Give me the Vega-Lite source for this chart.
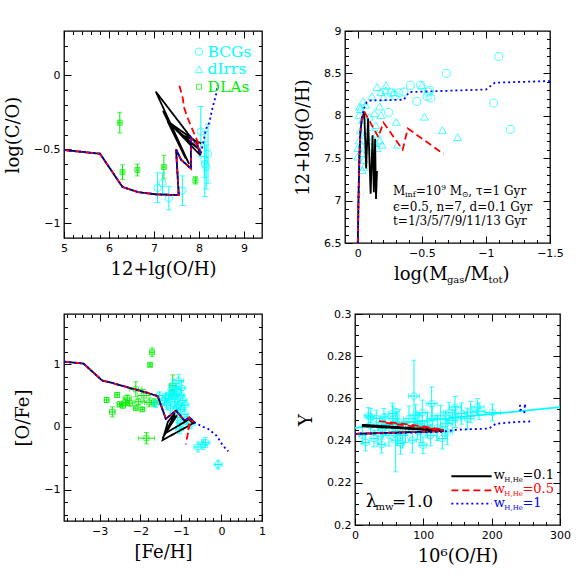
{
"$schema":"https://vega.github.io/schema/vega-lite/v6.json",
"background":"white",
"padding":{"left":3,"top":24,"right":5,"bottom":5},
"config":{
 "view":{"stroke":"black","strokeWidth":1.3},
 "axis":{"domain":false,"grid":false,"labelFont":"DejaVu Sans","labelFontSize":11,"labelColor":"black","labelPadding":11,"labelOverlap":false,"labelFlush":false,"titleFont":"DejaVu Serif","titleFontSize":18,"titleFontWeight":"normal","titleColor":"black","tickColor":"black","tickWidth":1,"format":"~r"},
 "axisX":{"titlePadding":4},
 "axisY":{"titlePadding":11},
 "line":{"strokeWidth":1.8},
 "point":{"filled":false,"strokeWidth":1}
},
"datasets":{
 "p1lines":[
  {"m":"0.1","o":1,"x":5,"y":-0.505},{"m":"0.1","o":2,"x":5.8,"y":-0.53},{"m":"0.1","o":3,"x":6.3,"y":-0.755},{"m":"0.1","o":4,"x":6.65,"y":-0.79},{"m":"0.1","o":5,"x":7.05,"y":-0.805},{"m":"0.1","o":6,"x":7.55,"y":-0.81},{"m":"0.1","o":7,"x":7.49,"y":-0.5},{"m":"0.1","o":8,"x":7.6,"y":-0.57},{"m":"0.1","o":9,"x":7.82,"y":-0.63},{"m":"0.1","o":10,"x":7.82,"y":-0.42},
  {"m":"0.1","o":11,"x":7.04,"y":-0.11},{"m":"0.1","o":12,"x":7.78,"y":-0.6},{"m":"0.1","o":13,"x":7.2,"y":-0.24},{"m":"0.1","o":14,"x":7.7,"y":-0.56},{"m":"0.1","o":15,"x":7.3,"y":-0.31},{"m":"0.1","o":16,"x":7.95,"y":-0.45},{"m":"0.1","o":17,"x":8.03,"y":-0.54},{"m":"0.1","o":18,"x":7.4,"y":-0.34},{"m":"0.1","o":19,"x":8.0,"y":-0.5},{"m":"0.1","o":20,"x":7.6,"y":-0.4},{"m":"0.1","o":21,"x":8.05,"y":-0.46},
  {"m":"0.5","o":1,"x":5,"y":-0.505},{"m":"0.5","o":2,"x":5.8,"y":-0.53},{"m":"0.5","o":3,"x":6.3,"y":-0.755},{"m":"0.5","o":4,"x":6.65,"y":-0.79},{"m":"0.5","o":5,"x":7.05,"y":-0.805},{"m":"0.5","o":6,"x":7.55,"y":-0.81},{"m":"0.5","o":7,"x":7.49,"y":-0.5},{"m":"0.5","o":8,"x":7.6,"y":-0.57},{"m":"0.5","o":9,"x":7.82,"y":-0.63},{"m":"0.5","o":10,"x":7.82,"y":-0.42},
  {"m":"0.5","o":11,"x":7.97,"y":-0.48},{"m":"0.5","o":12,"x":8.04,"y":-0.53},{"m":"0.5","o":13,"x":7.97,"y":-0.45},{"m":"0.5","o":14,"x":7.86,"y":-0.37},{"m":"0.5","o":15,"x":7.75,"y":-0.29},{"m":"0.5","o":16,"x":7.67,"y":-0.22},{"m":"0.5","o":17,"x":7.64,"y":-0.155},{"m":"0.5","o":18,"x":7.56,"y":-0.065},
  {"m":"1","o":1,"x":5,"y":-0.505},{"m":"1","o":2,"x":5.8,"y":-0.53},{"m":"1","o":3,"x":6.3,"y":-0.755},{"m":"1","o":4,"x":6.65,"y":-0.79},{"m":"1","o":5,"x":7.05,"y":-0.805},{"m":"1","o":6,"x":7.55,"y":-0.81},{"m":"1","o":7,"x":7.49,"y":-0.5},{"m":"1","o":8,"x":7.6,"y":-0.57},{"m":"1","o":9,"x":7.82,"y":-0.63},{"m":"1","o":10,"x":7.82,"y":-0.42},
  {"m":"1","o":11,"x":7.97,"y":-0.48},{"m":"1","o":12,"x":8.04,"y":-0.53},{"m":"1","o":13,"x":8.16,"y":-0.36},{"m":"1","o":14,"x":8.23,"y":-0.32},{"m":"1","o":15,"x":8.3,"y":-0.22},{"m":"1","o":16,"x":8.38,"y":-0.13},{"m":"1","o":17,"x":8.41,"y":-0.065}
 ],
 "p1bcg":[
  {"x":7.08,"y":-0.76,"xe":0.04,"ye":0.1},{"x":7.19,"y":-0.73,"xe":0.04,"ye":0.07},{"x":7.33,"y":-0.83,"xe":0.04,"ye":0.08},{"x":7.63,"y":-0.78,"xe":0.04,"ye":0.1},{"x":8.04,"y":-0.38,"xe":0.04,"ye":0.17},{"x":8.2,"y":-0.53,"xe":0.04,"ye":0.2},{"x":8.13,"y":-0.6,"xe":0.04,"ye":0.22},{"x":8.16,"y":-0.62,"xe":0.04,"ye":0.15},{"x":8.12,"y":-0.57,"xe":0.04,"ye":0.12}
 ],
 "p1dla":[
  {"x":6.24,"y":-0.32,"xe":0.03,"ye":0.07},{"x":6.3,"y":-0.655,"xe":0.03,"ye":0.05},{"x":6.63,"y":-0.64,"xe":0.03,"ye":0.04},{"x":7.22,"y":-0.62,"xe":0.03,"ye":0.08},{"x":7.92,"y":-0.71,"xe":0.03,"ye":0.025}
 ],
 "p2lines":[
  {"m":"0.1","o":1,"x":0,"y":6.5},{"m":"0.1","o":2,"x":-0.005,"y":7.0},{"m":"0.1","o":3,"x":-0.012,"y":7.5},{"m":"0.1","o":4,"x":-0.02,"y":7.8},{"m":"0.1","o":5,"x":-0.03,"y":7.95},
  {"m":"0.1","o":6,"x":-0.05,"y":8.05},{"m":"0.1","o":7,"x":-0.065,"y":7.38},{"m":"0.1","o":8,"x":-0.08,"y":7.97},{"m":"0.1","o":9,"x":-0.1,"y":7.08},{"m":"0.1","o":10,"x":-0.115,"y":7.77},{"m":"0.1","o":11,"x":-0.125,"y":7.1},{"m":"0.1","o":12,"x":-0.135,"y":7.73},{"m":"0.1","o":13,"x":-0.142,"y":7.02},{"m":"0.1","o":14,"x":-0.15,"y":7.35},
  {"m":"0.5","o":1,"x":0,"y":6.5},{"m":"0.5","o":2,"x":-0.005,"y":7.0},{"m":"0.5","o":3,"x":-0.012,"y":7.5},{"m":"0.5","o":4,"x":-0.02,"y":7.8},{"m":"0.5","o":5,"x":-0.03,"y":7.95},
  {"m":"0.5","o":6,"x":-0.05,"y":8.05},{"m":"0.5","o":7,"x":-0.16,"y":7.75},{"m":"0.5","o":8,"x":-0.2,"y":7.92},{"m":"0.5","o":9,"x":-0.35,"y":7.6},{"m":"0.5","o":10,"x":-0.39,"y":7.85},{"m":"0.5","o":11,"x":-0.67,"y":7.55},
  {"m":"1","o":1,"x":0,"y":6.5},{"m":"1","o":2,"x":-0.005,"y":7.0},{"m":"1","o":3,"x":-0.012,"y":7.5},{"m":"1","o":4,"x":-0.02,"y":7.8},{"m":"1","o":5,"x":-0.03,"y":7.95},
  {"m":"1","o":6,"x":-0.045,"y":8.08},{"m":"1","o":7,"x":-0.07,"y":8.16},{"m":"1","o":8,"x":-0.09,"y":8.18},{"m":"1","o":9,"x":-0.36,"y":8.19},{"m":"1","o":10,"x":-0.4,"y":8.28},{"m":"1","o":11,"x":-1.0,"y":8.31},{"m":"1","o":12,"x":-1.07,"y":8.39},{"m":"1","o":13,"x":-1.5,"y":8.41}
 ],
 "p2circ":[
  {"x":-1.1,"y":8.7},{"x":-0.69,"y":8.5},{"x":-1.06,"y":8.15},{"x":-1.19,"y":7.84},{"x":-0.46,"y":8.17},{"x":-0.41,"y":8.36},{"x":-0.49,"y":8.36},{"x":-0.54,"y":8.23},{"x":-0.57,"y":8.21},{"x":-0.55,"y":8.28},{"x":-0.24,"y":8.04},{"x":-0.32,"y":8.27},{"x":-0.26,"y":8.27},{"x":-0.29,"y":8.24},{"x":-0.36,"y":8.28},{"x":-0.56,"y":8.3}
 ],
 "p2tri":[
  {"x":-0.04,"y":8.17},{"x":-0.06,"y":8.13},{"x":-0.02,"y":8.08},{"x":-0.01,"y":8.01},{"x":-0.035,"y":7.95},{"x":-0.15,"y":8.34},{"x":-0.18,"y":8.28},{"x":-0.11,"y":8.23},{"x":-0.17,"y":8.11},{"x":-0.13,"y":8.03},{"x":-0.09,"y":7.99},{"x":-0.1,"y":7.87},{"x":-0.14,"y":7.89},{"x":-0.18,"y":8.01},{"x":-0.15,"y":7.79},{"x":-0.17,"y":7.71},{"x":-0.19,"y":7.66},{"x":-0.11,"y":7.71},{"x":-0.06,"y":7.77},{"x":-0.02,"y":7.83},{"x":-0.01,"y":7.71},{"x":0.0,"y":7.62},{"x":-0.035,"y":7.56},{"x":-0.05,"y":7.4},{"x":-0.035,"y":7.36},{"x":-0.3,"y":7.93},{"x":-0.31,"y":7.66},{"x":-0.52,"y":7.99},{"x":-0.66,"y":7.83},{"x":-0.78,"y":7.75},{"x":-0.28,"y":8.28},{"x":-0.22,"y":8.3},{"x":-0.5,"y":8.36},{"x":-0.015,"y":8.11},{"x":-0.14,"y":7.68},{"x":-0.15,"y":7.62},{"x":0.0,"y":7.52},{"x":-0.05,"y":7.48},{"x":-0.2,"y":8.22},{"x":-0.22,"y":8.36},{"x":-0.03,"y":7.66},{"x":-0.08,"y":7.6}
 ],
 "p3lines":[
  {"m":"0.1","o":1,"x":-3.88,"y":1.04},{"m":"0.1","o":2,"x":-3.4,"y":1.01},{"m":"0.1","o":3,"x":-2.94,"y":0.74},{"m":"0.1","o":4,"x":-2.69,"y":0.7},{"m":"0.1","o":5,"x":-1.86,"y":0.55},{"m":"0.1","o":6,"x":-1.57,"y":0.49},{"m":"0.1","o":7,"x":-1.37,"y":0.13},{"m":"0.1","o":8,"x":-1.12,"y":0.26},{"m":"0.1","o":9,"x":-0.91,"y":0.1},{"m":"0.1","o":10,"x":-0.79,"y":0.15},{"m":"0.1","o":11,"x":-0.66,"y":0.07},
  {"m":"0.1","o":12,"x":-1.45,"y":-0.21},{"m":"0.1","o":13,"x":-1.32,"y":0.08},{"m":"0.1","o":14,"x":-1.15,"y":0.22},{"m":"0.1","o":15,"x":-1.28,"y":0.0},{"m":"0.1","o":16,"x":-1.45,"y":-0.18},{"m":"0.1","o":17,"x":-1.2,"y":0.14},{"m":"0.1","o":18,"x":-1.1,"y":0.18},{"m":"0.1","o":19,"x":-1.38,"y":-0.1},{"m":"0.1","o":20,"x":-0.8,"y":0.12},{"m":"0.1","o":21,"x":-0.7,"y":0.06},
  {"m":"0.5","o":1,"x":-3.88,"y":1.04},{"m":"0.5","o":2,"x":-3.4,"y":1.01},{"m":"0.5","o":3,"x":-2.94,"y":0.74},{"m":"0.5","o":4,"x":-2.69,"y":0.7},{"m":"0.5","o":5,"x":-1.86,"y":0.55},{"m":"0.5","o":6,"x":-1.57,"y":0.49},{"m":"0.5","o":7,"x":-1.37,"y":0.13},{"m":"0.5","o":8,"x":-1.12,"y":0.26},{"m":"0.5","o":9,"x":-0.91,"y":0.1},{"m":"0.5","o":10,"x":-0.79,"y":0.15},{"m":"0.5","o":11,"x":-0.66,"y":0.07},
  {"m":"0.5","o":12,"x":-0.78,"y":0.12},{"m":"0.5","o":13,"x":-0.82,"y":-0.05},{"m":"0.5","o":14,"x":-0.78,"y":0.05},{"m":"0.5","o":15,"x":-0.88,"y":-0.28},
  {"m":"1","o":1,"x":-3.88,"y":1.04},{"m":"1","o":2,"x":-3.4,"y":1.01},{"m":"1","o":3,"x":-2.94,"y":0.74},{"m":"1","o":4,"x":-2.69,"y":0.7},{"m":"1","o":5,"x":-1.86,"y":0.55},{"m":"1","o":6,"x":-1.57,"y":0.49},{"m":"1","o":7,"x":-1.37,"y":0.13},{"m":"1","o":8,"x":-1.12,"y":0.26},{"m":"1","o":9,"x":-0.91,"y":0.1},{"m":"1","o":10,"x":-0.79,"y":0.15},{"m":"1","o":11,"x":-0.66,"y":0.07},
  {"m":"1","o":12,"x":-0.45,"y":0.0},{"m":"1","o":13,"x":-0.33,"y":-0.03},{"m":"1","o":14,"x":-0.12,"y":-0.14},{"m":"1","o":15,"x":0.04,"y":-0.3},{"m":"1","o":16,"x":0.17,"y":-0.39}
 ],
 "p3dla":[
  {"x":-1.71,"y":1.19,"xe":0.05,"ye":0.07},{"x":-1.76,"y":0.99,"xe":0.03,"ye":0.03},{"x":-2.83,"y":0.43,"xe":0.05,"ye":0.04},{"x":-2.69,"y":0.24,"xe":0.07,"ye":0.08},{"x":-2.57,"y":0.51,"xe":0.05,"ye":0.04},{"x":-2.51,"y":0.36,"xe":0.06,"ye":0.04},{"x":-2.32,"y":0.46,"xe":0.1,"ye":0.05},{"x":-2.26,"y":0.38,"xe":0.08,"ye":0.05},{"x":-2.11,"y":0.6,"xe":0.15,"ye":0.12},{"x":-2.11,"y":0.3,"xe":0.05,"ye":0.03},{"x":-1.95,"y":0.28,"xe":0.05,"ye":0.03},{"x":-1.91,"y":0.5,"xe":0.15,"ye":0.1},{"x":-1.78,"y":0.39,"xe":0.12,"ye":0.07},{"x":-1.66,"y":0.39,"xe":0.08,"ye":0.06},{"x":-1.85,"y":-0.18,"xe":0.2,"ye":0.09},{"x":-1.2,"y":0.66,"xe":0.08,"ye":0.17},{"x":-1.22,"y":0.55,"xe":0.05,"ye":0.05},{"x":-2.36,"y":0.39,"xe":0.08,"ye":0.05},{"x":-2.43,"y":0.34,"xe":0.06,"ye":0.04},{"x":-2.05,"y":0.4,"xe":0.1,"ye":0.05}
 ],
 "p3bcg":[
  {"x":-0.58,"y":-0.32,"xe":0.1,"ye":0.08},{"x":-0.45,"y":-0.28,"xe":0.1,"ye":0.08},{"x":-0.39,"y":-0.25,"xe":0.1,"ye":0.08},{"x":-0.08,"y":-0.6,"xe":0.1,"ye":0.07},{"x":-1.03,"y":-0.03,"xe":0.1,"ye":0.08},{"x":-1.05,"y":0.74,"xe":0.12,"ye":0.1},{"x":-1.62,"y":0.37,"xe":0.08,"ye":0.06},{"x":-1.53,"y":0.5,"xe":0.08,"ye":0.06},{"x":-1.37,"y":0.46,"xe":0.1,"ye":0.08},{"x":-1.3,"y":0.45,"xe":0.1,"ye":0.08},{"x":-1.2,"y":0.55,"xe":0.1,"ye":0.1},{"x":-1.15,"y":0.4,"xe":0.1,"ye":0.08},{"x":-1.1,"y":0.6,"xe":0.1,"ye":0.1},{"x":-1.05,"y":0.35,"xe":0.1,"ye":0.08},{"x":-1.0,"y":0.5,"xe":0.1,"ye":0.08},{"x":-0.95,"y":0.42,"xe":0.1,"ye":0.08},{"x":-1.25,"y":0.3,"xe":0.1,"ye":0.08},{"x":-1.1,"y":0.3,"xe":0.1,"ye":0.08},{"x":-1.0,"y":0.28,"xe":0.1,"ye":0.08},{"x":-0.9,"y":0.35,"xe":0.1,"ye":0.08},{"x":-1.2,"y":0.65,"xe":0.1,"ye":0.1},{"x":-0.98,"y":0.62,"xe":0.1,"ye":0.1},{"x":-1.35,"y":0.35,"xe":0.1,"ye":0.08},{"x":-1.4,"y":0.42,"xe":0.1,"ye":0.08},{"x":-1.15,"y":0.48,"xe":0.1,"ye":0.08},{"x":-0.92,"y":0.2,"xe":0.1,"ye":0.08},{"x":-0.85,"y":0.12,"xe":0.1,"ye":0.08},{"x":-1.08,"y":0.15,"xe":0.1,"ye":0.08},{"x":-1.0,"y":0.05,"xe":0.1,"ye":0.08},{"x":-0.75,"y":0.05,"xe":0.1,"ye":0.08},{"x":-1.12,"y":0.52,"xe":0.1,"ye":0.08},{"x":-1.28,"y":0.52,"xe":0.1,"ye":0.08}
 ],
 "p4lines":[
  {"m":"0.1","s":"k1","o":1,"x":0,"y":0.2432},{"m":"0.1","s":"k1","o":2,"x":130,"y":0.2445},
  {"m":"0.1","s":"k2","o":1,"x":10,"y":0.2475},{"m":"0.1","s":"k2","o":2,"x":60,"y":0.2465},{"m":"0.1","s":"k2","o":3,"x":130,"y":0.2448},
  {"m":"0.1","s":"k3","o":1,"x":10,"y":0.2468},{"m":"0.1","s":"k3","o":2,"x":70,"y":0.2458},{"m":"0.1","s":"k3","o":3,"x":130,"y":0.2446},
  {"m":"0.1","s":"k4","o":1,"x":12,"y":0.2472},{"m":"0.1","s":"k4","o":2,"x":90,"y":0.2455},{"m":"0.1","s":"k4","o":3,"x":128,"y":0.2447},
  {"m":"0.5","s":"r1","o":1,"x":0,"y":0.2432},{"m":"0.5","s":"r1","o":2,"x":130,"y":0.2445},
  {"m":"0.5","s":"r2","o":1,"x":35,"y":0.2492},{"m":"0.5","s":"r2","o":2,"x":80,"y":0.2476},{"m":"0.5","s":"r2","o":3,"x":130,"y":0.2452},
  {"m":"0.5","s":"r3","o":1,"x":45,"y":0.2484},{"m":"0.5","s":"r3","o":2,"x":130,"y":0.2449},
  {"m":"1","s":"b1","o":1,"x":0,"y":0.2432},{"m":"1","s":"b1","o":2,"x":60,"y":0.2436},{"m":"1","s":"b1","o":3,"x":128,"y":0.2442},{"m":"1","s":"b1","o":4,"x":150,"y":0.2452},{"m":"1","s":"b1","o":5,"x":196,"y":0.2457},{"m":"1","s":"b1","o":6,"x":206,"y":0.248},{"m":"1","s":"b1","o":7,"x":235,"y":0.2488},{"m":"1","s":"b1","o":8,"x":258,"y":0.2491},
  {"m":"1","s":"b2","o":1,"x":240,"y":0.2565},{"m":"1","s":"b2","o":2,"x":252,"y":0.2567},{"m":"1","s":"b2","o":3,"x":246,"y":0.2555},{"m":"1","s":"b2","o":4,"x":242,"y":0.2545},{"m":"1","s":"b2","o":5,"x":248,"y":0.2535},{"m":"1","s":"b2","o":6,"x":252,"y":0.2527}
 ],
 "p4circ":[
  {"x":15.6,"y":0.2391,"xe":6,"ye":0.004},{"x":19.5,"y":0.2517,"xe":6,"ye":0.004},{"x":22.9,"y":0.2472,"xe":6,"ye":0.004},{"x":31.2,"y":0.2504,"xe":6,"ye":0.004},{"x":33.7,"y":0.2436,"xe":6,"ye":0.005},{"x":39,"y":0.2381,"xe":6,"ye":0.004},{"x":42.4,"y":0.2512,"xe":6,"ye":0.004},{"x":43.9,"y":0.2476,"xe":6,"ye":0.005},{"x":55.6,"y":0.2504,"xe":6,"ye":0.006},{"x":62,"y":0.2457,"xe":8,"ye":0.008},{"x":66.8,"y":0.2386,"xe":6,"ye":0.005},{"x":69.3,"y":0.2425,"xe":8,"ye":0.006},{"x":79,"y":0.2504,"xe":8,"ye":0.006},{"x":86.3,"y":0.2611,"xe":8,"ye":0.017},{"x":88.8,"y":0.252,"xe":8,"ye":0.005},{"x":91.2,"y":0.2465,"xe":8,"ye":0.006},{"x":98.5,"y":0.2532,"xe":8,"ye":0.006},{"x":99.5,"y":0.2378,"xe":6,"ye":0.004},{"x":105.9,"y":0.2472,"xe":8,"ye":0.006},{"x":112.2,"y":0.2575,"xe":8,"ye":0.008},{"x":120.5,"y":0.246,"xe":8,"ye":0.006},{"x":125.4,"y":0.2517,"xe":8,"ye":0.005},{"x":132.7,"y":0.248,"xe":8,"ye":0.006},{"x":137.6,"y":0.2532,"xe":8,"ye":0.005},{"x":142.4,"y":0.2496,"xe":8,"ye":0.005},{"x":146.3,"y":0.2559,"xe":8,"ye":0.005},{"x":156.1,"y":0.2528,"xe":8,"ye":0.005},{"x":169.3,"y":0.2535,"xe":10,"ye":0.005},{"x":179,"y":0.2559,"xe":10,"ye":0.004},{"x":181.5,"y":0.2539,"xe":10,"ye":0.004},{"x":201,"y":0.2533,"xe":12,"ye":0.004},{"x":10.7,"y":0.2425,"xe":5,"ye":0.004},{"x":27.8,"y":0.241,"xe":6,"ye":0.004},{"x":49.8,"y":0.2425,"xe":8,"ye":0.005},{"x":59.5,"y":0.2402,"xe":6,"ye":0.015},{"x":74,"y":0.2441,"xe":8,"ye":0.005},{"x":83.9,"y":0.2402,"xe":6,"ye":0.006},{"x":96.1,"y":0.2441,"xe":8,"ye":0.005},{"x":110.7,"y":0.2425,"xe":8,"ye":0.005},{"x":127.8,"y":0.241,"xe":8,"ye":0.005},{"x":93.7,"y":0.248,"xe":8,"ye":0.005},{"x":64.4,"y":0.2488,"xe":8,"ye":0.006},{"x":40,"y":0.2457,"xe":6,"ye":0.005},{"x":113,"y":0.2504,"xe":8,"ye":0.006},{"x":147.3,"y":0.2512,"xe":8,"ye":0.005},{"x":164.4,"y":0.2504,"xe":10,"ye":0.005},{"x":135,"y":0.2441,"xe":8,"ye":0.006},{"x":23,"y":0.2512,"xe":6,"ye":0.004},{"x":54.6,"y":0.2528,"xe":6,"ye":0.005}
 ]
},
"vconcat":[
{"hconcat":[
{
 "width":198,"height":207,
 "encoding":{
  "x":{"field":"x","type":"quantitative","scale":{"domain":[5,9.4],"nice":false,"zero":false},"axis":null},
  "y":{"field":"y","type":"quantitative","scale":{"domain":[-1.1,0.3],"nice":false,"zero":false},"axis":null}
 },
 "layer":[
  {"data":{"name":"p1dla"},"mark":{"type":"errorbar","ticks":{"size":5},"color":"#00ee00"},"encoding":{"yError":{"field":"ye"}}},
  {"data":{"name":"p1dla"},"mark":{"type":"errorbar","ticks":{"size":5},"color":"#00ee00"},"encoding":{"xError":{"field":"xe"}}},
  {"data":{"name":"p1dla"},"mark":{"type":"point","shape":"square","size":25,"color":"#00ee00"}},
  {"data":{"name":"p1bcg"},"mark":{"type":"errorbar","ticks":{"size":6},"color":"#00ffff"},"encoding":{"yError":{"field":"ye"}}},
  {"data":{"name":"p1bcg"},"mark":{"type":"point","shape":"circle","size":55,"color":"#00ffff"},
   "encoding":{
    "x":{"field":"x","type":"quantitative","scale":{"domain":[5,9.4],"nice":false,"zero":false},"axis":{"orient":"top","values":[5,5.2,5.4,5.6,5.8,6,6.2,6.4,6.6,6.8,7,7.2,7.4,7.6,7.8,8,8.2,8.4,8.6,8.8,9,9.2],"labels":false,"title":null,"tickSize":{"condition":{"test":"abs(datum.value-round(datum.value))<1e-6","value":-7},"value":-3.5}}},
    "y":{"field":"y","type":"quantitative","scale":{"domain":[-1.1,0.3],"nice":false,"zero":false},"axis":{"orient":"right","values":[-1,-0.9,-0.8,-0.7,-0.6,-0.5,-0.4,-0.3,-0.2,-0.1,0,0.1,0.2],"labels":false,"title":null,"tickSize":{"condition":{"test":"abs(2*datum.value-round(2*datum.value))<1e-6","value":-7},"value":-3.5}}}
   }},
  {"data":{"name":"p1lines"},"mark":{"type":"line"},
   "encoding":{
    "x":{"field":"x","type":"quantitative","scale":{"domain":[5,9.4],"nice":false,"zero":false},"axis":{"orient":"bottom","values":[5,5.2,5.4,5.6,5.8,6,6.2,6.4,6.6,6.8,7,7.2,7.4,7.6,7.8,8,8.2,8.4,8.6,8.8,9,9.2],"labelExpr":"abs(datum.value-round(datum.value))<1e-6 ? datum.label : ''","title":"12+lg(O/H)","tickSize":{"condition":{"test":"abs(datum.value-round(datum.value))<1e-6","value":-7},"value":-3.5}}},
    "y":{"field":"y","type":"quantitative","scale":{"domain":[-1.1,0.3],"nice":false,"zero":false},"axis":{"orient":"left","values":[-1,-0.9,-0.8,-0.7,-0.6,-0.5,-0.4,-0.3,-0.2,-0.1,0,0.1,0.2],"labelExpr":"abs(2*datum.value-round(2*datum.value))<1e-6 ? datum.label : ''","title":"log(C/O)","tickSize":{"condition":{"test":"abs(2*datum.value-round(2*datum.value))<1e-6","value":-7},"value":-3.5}}},
    "color":{"field":"m","type":"nominal","scale":{"domain":["0.1","0.5","1"],"range":["#000000","#ff0000","#0000ff"]},"legend":null},
    "strokeDash":{"field":"m","type":"nominal","scale":{"domain":["0.1","0.5","1"],"range":[[1,0],[7,4],[2,3]]},"legend":null},
    "order":{"field":"o","type":"quantitative"}
   }},
  {"data":{"values":[{"x":8.0,"y":0.16}]},"mark":{"type":"point","shape":"circle","size":55,"color":"#00ffff"}},
  {"data":{"values":[{"x":8.0,"y":0.04}]},"mark":{"type":"point","shape":"triangle-up","size":55,"color":"#00ffff"}},
  {"data":{"values":[{"x":8.0,"y":-0.077}]},"mark":{"type":"point","shape":"square","size":25,"color":"#00ee00"}},
  {"data":{"values":[{"x":8.19,"y":0.16,"t":"BCGs"},{"x":8.19,"y":0.04,"t":"dIrrs"}]},"mark":{"type":"text","align":"left","baseline":"middle","font":"DejaVu Serif","fontSize":15.5,"color":"#00ffff"},"encoding":{"text":{"field":"t"}}},
  {"data":{"values":[{"x":8.19,"y":-0.077,"t":"DLAs"}]},"mark":{"type":"text","align":"left","baseline":"middle","font":"DejaVu Serif","fontSize":15.5,"color":"#00ee00"},"encoding":{"text":{"field":"t"}}}
 ]
},
{
 "width":205,"height":212,
 "encoding":{
  "x":{"field":"x","type":"quantitative","scale":{"domain":[-1.5,0.1],"reverse":true,"nice":false,"zero":false},"axis":null},
  "y":{"field":"y","type":"quantitative","scale":{"domain":[6.5,9],"nice":false,"zero":false},"axis":null}
 },
 "layer":[
  {"data":{"name":"p2circ"},"mark":{"type":"point","shape":"circle","size":65,"color":"#00ffff"}},
  {"data":{"name":"p2tri"},"mark":{"type":"point","shape":"triangle-up","size":65,"color":"#00ffff"},
   "encoding":{
    "x":{"field":"x","type":"quantitative","scale":{"domain":[-1.5,0.1],"reverse":true,"nice":false,"zero":false},"axis":{"orient":"top","values":[0,-0.1,-0.2,-0.3,-0.4,-0.5,-0.6,-0.7,-0.8,-0.9,-1,-1.1,-1.2,-1.3,-1.4],"labels":false,"title":null,"tickSize":{"condition":{"test":"abs(2*datum.value-round(2*datum.value))<1e-6","value":-7},"value":-3.5}}},
    "y":{"field":"y","type":"quantitative","scale":{"domain":[6.5,9],"nice":false,"zero":false},"axis":{"orient":"right","values":[6.6,6.7,6.8,6.9,7,7.1,7.2,7.3,7.4,7.5,7.6,7.7,7.8,7.9,8,8.1,8.2,8.3,8.4,8.5,8.6,8.7,8.8,8.9],"labels":false,"title":null,"tickSize":{"condition":{"test":"abs(2*datum.value-round(2*datum.value))<1e-6","value":-7},"value":-3.5}}}
   }},
  {"data":{"name":"p2lines"},"mark":{"type":"line"},
   "encoding":{
    "x":{"field":"x","type":"quantitative","scale":{"domain":[-1.5,0.1],"reverse":true,"nice":false,"zero":false},"axis":{"orient":"bottom","values":[0,-0.1,-0.2,-0.3,-0.4,-0.5,-0.6,-0.7,-0.8,-0.9,-1,-1.1,-1.2,-1.3,-1.4,-1.5],"labelExpr":"abs(2*datum.value-round(2*datum.value))<1e-6 ? datum.label : ''","title":null,"tickSize":{"condition":{"test":"abs(2*datum.value-round(2*datum.value))<1e-6","value":-7},"value":-3.5}}},
    "y":{"field":"y","type":"quantitative","scale":{"domain":[6.5,9],"nice":false,"zero":false},"axis":{"orient":"left","values":[6.5,6.6,6.7,6.8,6.9,7,7.1,7.2,7.3,7.4,7.5,7.6,7.7,7.8,7.9,8,8.1,8.2,8.3,8.4,8.5,8.6,8.7,8.8,8.9,9],"labelExpr":"abs(2*datum.value-round(2*datum.value))<1e-6 ? datum.label : ''","title":"12+log(O/H)","tickSize":{"condition":{"test":"abs(2*datum.value-round(2*datum.value))<1e-6","value":-7},"value":-3.5}}},
    "color":{"field":"m","type":"nominal","scale":{"domain":["0.1","0.5","1"],"range":["#000000","#ff0000","#0000ff"]},"legend":null},
    "strokeDash":{"field":"m","type":"nominal","scale":{"domain":["0.1","0.5","1"],"range":[[1,0],[7,4],[2,3]]},"legend":null},
    "order":{"field":"o","type":"quantitative"}
   }},
  {"data":{"values":[{"x":-0.275,"y":7.07,"t":"M"},{"x":-0.452,"y":7.07,"t":"=10"},{"x":-0.718,"y":7.07,"t":"M"},{"x":-0.862,"y":7.07,"t":", τ=1 Gyr"},{"x":-0.275,"y":6.88,"t":"ϵ=0.5, n=7, d=0.1 Gyr"},{"x":-0.275,"y":6.71,"t":"t=1/3/5/7/9/11/13 Gyr"}]},
   "mark":{"type":"text","align":"left","baseline":"alphabetic","font":"DejaVu Serif","fontSize":12,"color":"black"},"encoding":{"text":{"field":"t"}}},
  {"data":{"values":[{"x":-0.368,"y":7.04,"t":"inf"},{"x":-0.65,"y":7.13,"t":"9"},{"x":-0.811,"y":7.04,"t":"⊙"}]},
   "mark":{"type":"text","align":"left","baseline":"alphabetic","font":"DejaVu Serif","fontSize":8,"color":"black"},"encoding":{"text":{"field":"t"}}},
  {"data":{"values":[{"x":-0.2825,"y":6.064,"t":"log(M"},{"x":-0.832,"y":6.064,"t":"/M"},{"x":-1.129,"y":6.064,"t":")"}]},
   "mark":{"type":"text","align":"left","baseline":"alphabetic","font":"DejaVu Serif","fontSize":18,"color":"black"},"encoding":{"text":{"field":"t"}}},
  {"data":{"values":[{"x":-0.6955,"y":6.03,"t":"gas"},{"x":-1.0195,"y":6.03,"t":"tot"}]},
   "mark":{"type":"text","align":"left","baseline":"alphabetic","font":"DejaVu Serif","fontSize":10,"color":"black"},"encoding":{"text":{"field":"t"}}}
 ]
}
],"spacing":29},
{"hconcat":[
{
 "width":198,"height":207,
 "encoding":{
  "x":{"field":"x","type":"quantitative","scale":{"domain":[-3.88,1],"nice":false,"zero":false},"axis":null},
  "y":{"field":"y","type":"quantitative","scale":{"domain":[-1.5,1.8],"nice":false,"zero":false},"axis":null}
 },
 "layer":[
  {"data":{"name":"p3dla"},"mark":{"type":"errorbar","ticks":{"size":5},"color":"#00ee00"},"encoding":{"yError":{"field":"ye"}}},
  {"data":{"name":"p3dla"},"mark":{"type":"errorbar","ticks":{"size":5},"color":"#00ee00"},"encoding":{"xError":{"field":"xe"}}},
  {"data":{"name":"p3dla"},"mark":{"type":"point","shape":"square","size":25,"color":"#00ee00"}},
  {"data":{"name":"p3bcg"},"mark":{"type":"errorbar","ticks":{"size":5},"color":"#00ffff"},"encoding":{"yError":{"field":"ye"}}},
  {"data":{"name":"p3bcg"},"mark":{"type":"errorbar","ticks":{"size":5},"color":"#00ffff"},"encoding":{"xError":{"field":"xe"}}},
  {"data":{"name":"p3bcg"},"mark":{"type":"point","shape":"circle","size":40,"color":"#00ffff"},
   "encoding":{
    "x":{"field":"x","type":"quantitative","scale":{"domain":[-3.88,1],"nice":false,"zero":false},"axis":{"orient":"top","values":[-3.8,-3.6,-3.4,-3.2,-3,-2.8,-2.6,-2.4,-2.2,-2,-1.8,-1.6,-1.4,-1.2,-1,-0.8,-0.6,-0.4,-0.2,0,0.2,0.4,0.6,0.8],"labels":false,"title":null,"tickSize":{"condition":{"test":"abs(datum.value-round(datum.value))<1e-6","value":-7},"value":-3.5}}},
    "y":{"field":"y","type":"quantitative","scale":{"domain":[-1.5,1.8],"nice":false,"zero":false},"axis":{"orient":"right","values":[-1.4,-1.2,-1,-0.8,-0.6,-0.4,-0.2,0,0.2,0.4,0.6,0.8,1,1.2,1.4,1.6],"labels":false,"title":null,"tickSize":{"condition":{"test":"abs(datum.value-round(datum.value))<1e-6","value":-7},"value":-3.5}}}
   }},
  {"data":{"name":"p3lines"},"mark":{"type":"line"},
   "encoding":{
    "x":{"field":"x","type":"quantitative","scale":{"domain":[-3.88,1],"nice":false,"zero":false},"axis":{"orient":"bottom","values":[-3.8,-3.6,-3.4,-3.2,-3,-2.8,-2.6,-2.4,-2.2,-2,-1.8,-1.6,-1.4,-1.2,-1,-0.8,-0.6,-0.4,-0.2,0,0.2,0.4,0.6,0.8,1],"labelExpr":"abs(datum.value-round(datum.value))<1e-6 ? datum.label : ''","title":"[Fe/H]","tickSize":{"condition":{"test":"abs(datum.value-round(datum.value))<1e-6","value":-7},"value":-3.5}}},
    "y":{"field":"y","type":"quantitative","scale":{"domain":[-1.5,1.8],"nice":false,"zero":false},"axis":{"orient":"left","values":[-1.4,-1.2,-1,-0.8,-0.6,-0.4,-0.2,0,0.2,0.4,0.6,0.8,1,1.2,1.4,1.6],"labelExpr":"abs(datum.value-round(datum.value))<1e-6 ? datum.label : ''","title":"[O/Fe]","tickSize":{"condition":{"test":"abs(datum.value-round(datum.value))<1e-6","value":-7},"value":-3.5}}},
    "color":{"field":"m","type":"nominal","scale":{"domain":["0.1","0.5","1"],"range":["#000000","#ff0000","#0000ff"]},"legend":null},
    "strokeDash":{"field":"m","type":"nominal","scale":{"domain":["0.1","0.5","1"],"range":[[1,0],[7,4],[2,3]]},"legend":null},
    "order":{"field":"o","type":"quantitative"}
   }}
 ]
},
{
 "width":205,"height":211,
 "encoding":{
  "x":{"field":"x","type":"quantitative","scale":{"domain":[0,300],"nice":false,"zero":false},"axis":null},
  "y":{"field":"y","type":"quantitative","scale":{"domain":[0.2,0.3],"nice":false,"zero":false},"axis":null}
 },
 "layer":[
  {"data":{"name":"p4circ"},"mark":{"type":"errorbar","ticks":{"size":5},"color":"#00ffff"},"encoding":{"yError":{"field":"ye"}}},
  {"data":{"name":"p4circ"},"mark":{"type":"errorbar","ticks":{"size":5},"color":"#00ffff"},"encoding":{"xError":{"field":"xe"}}},
  {"data":{"name":"p4circ"},"mark":{"type":"point","shape":"circle","size":45,"color":"#00ffff"},
   "encoding":{
    "x":{"field":"x","type":"quantitative","scale":{"domain":[0,300],"nice":false,"zero":false},"axis":{"orient":"top","values":[20,40,60,80,100,120,140,160,180,200,220,240,260,280],"labels":false,"title":null,"tickSize":{"condition":{"test":"abs(datum.value/100-round(datum.value/100))<1e-6","value":-7},"value":-3.5}}},
    "y":{"field":"y","type":"quantitative","scale":{"domain":[0.2,0.3],"nice":false,"zero":false},"axis":{"orient":"right","values":[0.205,0.21,0.215,0.22,0.225,0.23,0.235,0.24,0.245,0.25,0.255,0.26,0.265,0.27,0.275,0.28,0.285,0.29,0.295],"labels":false,"title":null,"tickSize":{"condition":{"test":"abs(50*datum.value-round(50*datum.value))<1e-6","value":-7},"value":-3.5}}}
   }},
  {"data":{"values":[{"x":0,"y":0.246},{"x":300,"y":0.2559}]},"mark":{"type":"line","color":"#00ffff","strokeWidth":1.8}},
  {"data":{"name":"p4lines"},"mark":{"type":"line"},
   "encoding":{
    "x":{"field":"x","type":"quantitative","scale":{"domain":[0,300],"nice":false,"zero":false},"axis":{"orient":"bottom","values":[0,20,40,60,80,100,120,140,160,180,200,220,240,260,280,300],"labelExpr":"abs(datum.value/100-round(datum.value/100))<1e-6 ? datum.label : ''","title":"10⁶(O/H)","tickSize":{"condition":{"test":"abs(datum.value/100-round(datum.value/100))<1e-6","value":-7},"value":-3.5}}},
    "y":{"field":"y","type":"quantitative","scale":{"domain":[0.2,0.3],"nice":false,"zero":false},"axis":{"orient":"left","values":[0.2,0.205,0.21,0.215,0.22,0.225,0.23,0.235,0.24,0.245,0.25,0.255,0.26,0.265,0.27,0.275,0.28,0.285,0.29,0.295,0.3],"labelExpr":"abs(50*datum.value-round(50*datum.value))<1e-6 ? datum.label : ''","title":"Y","tickSize":{"condition":{"test":"abs(50*datum.value-round(50*datum.value))<1e-6","value":-7},"value":-3.5}}},
    "color":{"field":"m","type":"nominal","scale":{"domain":["0.1","0.5","1"],"range":["#000000","#ff0000","#0000ff"]},"legend":null},
    "strokeDash":{"field":"m","type":"nominal","scale":{"domain":["0.1","0.5","1"],"range":[[1,0],[7,4],[2,3]]},"legend":null},
    "detail":{"field":"s","type":"nominal"},
    "order":{"field":"o","type":"quantitative"}
   }},
  {"data":{"values":[{"m":"0.1","x":141,"x2":200,"y":0.2231},{"m":"0.5","x":141,"x2":200,"y":0.2164},{"m":"1","x":141,"x2":200,"y":0.2101}]},
   "mark":{"type":"rule","strokeWidth":1.8},
   "encoding":{"x2":{"field":"x2"},
    "color":{"field":"m","type":"nominal","scale":{"domain":["0.1","0.5","1"],"range":["#000000","#ff0000","#0000ff"]},"legend":null},
    "strokeDash":{"field":"m","type":"nominal","scale":{"domain":["0.1","0.5","1"],"range":[[1,0],[7,4],[2,3]]},"legend":null}}},
  {"data":{"values":[{"m":"0.1","x":203,"y":0.2219,"t":"w"},{"m":"0.5","x":203,"y":0.2153,"t":"w"},{"m":"1","x":203,"y":0.2087,"t":"w"},{"m":"0.1","x":245,"y":0.2219,"t":"=0.1"},{"m":"0.5","x":245,"y":0.2153,"t":"=0.5"},{"m":"1","x":245,"y":0.2087,"t":"=1"}]},
   "mark":{"type":"text","align":"left","baseline":"alphabetic","font":"DejaVu Serif","fontSize":13},
   "encoding":{"text":{"field":"t"},"color":{"field":"m","type":"nominal","scale":{"domain":["0.1","0.5","1"],"range":["#000000","#ff0000","#0000ff"]},"legend":null}}},
  {"data":{"values":[{"m":"0.1","x":218.5,"y":0.2205,"t":"H,He"},{"m":"0.5","x":218.5,"y":0.2139,"t":"H,He"},{"m":"1","x":218.5,"y":0.2073,"t":"H,He"}]},
   "mark":{"type":"text","align":"left","baseline":"alphabetic","font":"DejaVu Serif","fontSize":7},
   "encoding":{"text":{"field":"t"},"color":{"field":"m","type":"nominal","scale":{"domain":["0.1","0.5","1"],"range":["#000000","#ff0000","#0000ff"]},"legend":null}}},
  {"data":{"values":[{"x":15.6,"y":0.2085,"t":"λ"}]},"mark":{"type":"text","align":"left","baseline":"alphabetic","font":"DejaVu Serif","fontSize":18,"color":"black"},"encoding":{"text":{"field":"t"}}},
  {"data":{"values":[{"x":30,"y":0.207,"t":"mw"}]},"mark":{"type":"text","align":"left","baseline":"alphabetic","font":"DejaVu Serif","fontSize":10,"color":"black"},"encoding":{"text":{"field":"t"}}},
  {"data":{"values":[{"x":54,"y":0.2085,"t":"=1.0"}]},"mark":{"type":"text","align":"left","baseline":"alphabetic","font":"DejaVu Serif","fontSize":17,"color":"black"},"encoding":{"text":{"field":"t"}}}
 ]
}
],"spacing":29}
],
"spacing":21
}
